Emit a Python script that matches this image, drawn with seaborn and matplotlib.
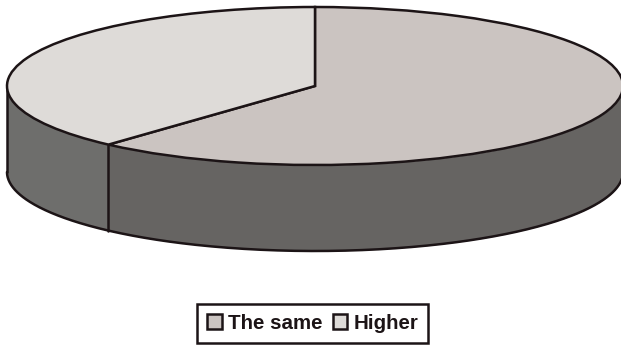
import numpy as np
import matplotlib
matplotlib.use("Agg")
import matplotlib.pyplot as plt
import seaborn as sns

categories = ["The same", "Higher"]
shares = [61.7, 38.3]
top_colors = ["#cbc4c1", "#dedbd8"]
side_colors = ["#666462", "#6e6e6c"]
outline = "#1c1416"

sns.set_theme(style="white")
plt.rcParams["font.family"] = ["Liberation Sans", "DejaVu Sans"]

fig = plt.figure(figsize=(6.21, 3.45), dpi=100)
ax = fig.add_axes([0, 0, 1, 1])

# Unit-circle pie squashed into an ellipse by the axis limits
px_x, px_y, cx, cy, depth = 308.0, 79.0, 315.0, 86.0, 86.0 / 79.0
line_w = 1.8
wedges, _ = ax.pie(shares, colors=top_colors, startangle=90, counterclock=False,
                   radius=1, center=(0, 0), frame=True,
                   wedgeprops=dict(edgecolor=outline, linewidth=line_w, zorder=3))
ax.set_aspect("auto")
ax.set_xlim(-cx / px_x, (621 - cx) / px_x)
ax.set_ylim((cy - 345) / px_y, cy / px_y)
ax.axis("off")

# Rim of the disc: front half of the ellipse dropped by the thickness
boundary = 2 * np.pi * shares[0] / sum(shares)
theta_split = np.pi / 2 - boundary + 2 * np.pi
t_first = np.linspace(2 * np.pi, theta_split, 200)
t_second = np.linspace(theta_split, np.pi, 60)
for t, color in zip([t_first, t_second], side_colors):
    ax.fill_between(np.cos(t), np.sin(t) - depth, np.sin(t), color=color, lw=0, zorder=1)
t_all = np.linspace(np.pi, 2 * np.pi, 400)
ax.plot(np.cos(t_all), np.sin(t_all) - depth, color=outline, lw=line_w, zorder=2)
for t_edge in [np.pi, theta_split, 2 * np.pi]:
    x_edge, y_edge = np.cos(t_edge), np.sin(t_edge)
    ax.plot([x_edge, x_edge], [y_edge, y_edge - depth], color=outline, lw=line_w, zorder=2)

leg = ax.legend(wedges, categories, ncol=2, loc="center",
                bbox_to_anchor=(312.5 / 621, 1 - 323.5 / 345), frameon=True, fancybox=False,
                edgecolor=outline, framealpha=1, borderaxespad=0,
                prop=dict(weight="bold", size=14.8), labelcolor=outline,
                handlelength=0.72, handleheight=0.72, handletextpad=0.3,
                columnspacing=0.5, borderpad=0.47)
leg.get_frame().set_linewidth(line_w)
for h in leg.legend_handles:
    h.set_linewidth(line_w)

fig.savefig("out.png", dpi=100)
